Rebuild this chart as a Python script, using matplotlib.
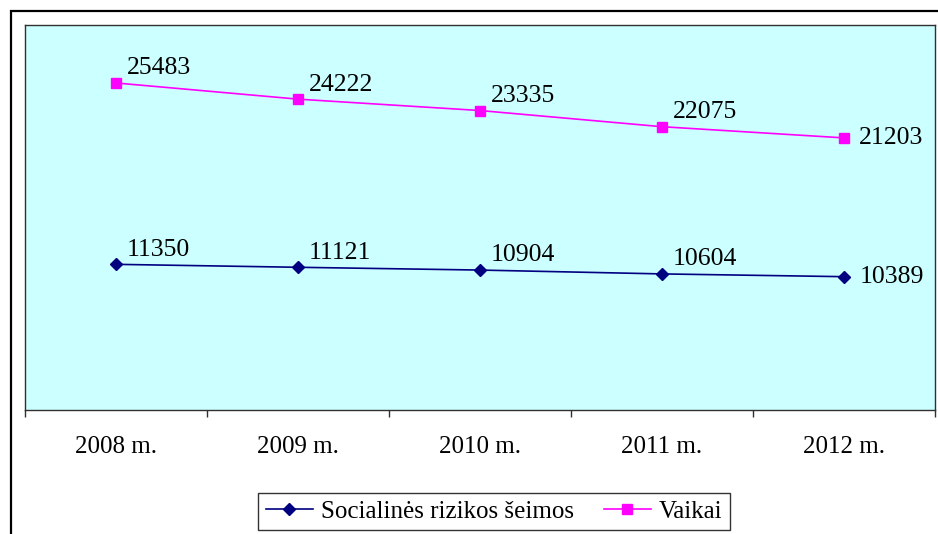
import matplotlib.pyplot as plt
from matplotlib.patches import Rectangle

plt.rcParams['font.family'] = ['Liberation Serif', 'DejaVu Serif']

years = ["2008 m.", "2009 m.", "2010 m.", "2011 m.", "2012 m."]
seimos = [11350, 11121, 10904, 10604, 10389]
vaikai = [25483, 24222, 23335, 22075, 21203]

fig = plt.figure(figsize=(9.38, 5.34), dpi=100)
ax = fig.add_axes([25 / 938, 1 - 410 / 534, 910 / 938, 385 / 534])
ax.set_facecolor('#CCFFFF')

x = list(range(len(years)))
ax.plot(x, seimos, color='#000080', marker='D', markersize=6.5, lw=1.2,
        label='Socialinės rizikos šeimos')
ax.plot(x, vaikai, color='#FF00FF', marker='s', markersize=7, lw=1.2,
        label='Vaikai')

# duomenų etiketės
for series in (seimos, vaikai):
    for i, v in enumerate(series):
        if i < len(series) - 1:
            off = (8, 10.5)
        else:
            off = (11, 0)
        ax.annotate(str(v), (i, v), xytext=off, textcoords='offset points',
                    ha='left', va='center', fontsize=18.5)

ax.set_xlim(-0.5, len(years) - 0.5)
ax.set_ylim(0, 30000)
ax.set_yticks([])

ax.set_xticks([i - 0.5 for i in range(len(years) + 1)])
ax.set_xticklabels([])
ax.set_xticks(x, minor=True)
ax.set_xticklabels(years, minor=True, fontsize=18)
ax.tick_params(axis='x', which='major', direction='out', length=5, width=1, color='#303030')
ax.tick_params(axis='x', which='minor', length=0, pad=19)

for s in ax.spines.values():
    s.set_color('#303030')
    s.set_linewidth(1)

leg = ax.legend(loc='upper center', bbox_to_anchor=(0.5 + 14 / 910, -0.215),
                ncol=2, fontsize=18, frameon=True, fancybox=False,
                edgecolor='black', handlelength=1.9, handletextpad=0.3,
                columnspacing=1.2, borderpad=0.3, borderaxespad=0)
leg.get_frame().set_linewidth(1)

# rėmelis aplink visą diagramą
fig.patches.append(Rectangle((10.5 / 938, -0.2), 1.5, (534 - 11.5) / 534 + 0.2,
                             transform=fig.transFigure, fill=False,
                             edgecolor='black', lw=1.6))

fig.savefig('out.png', dpi=100)
